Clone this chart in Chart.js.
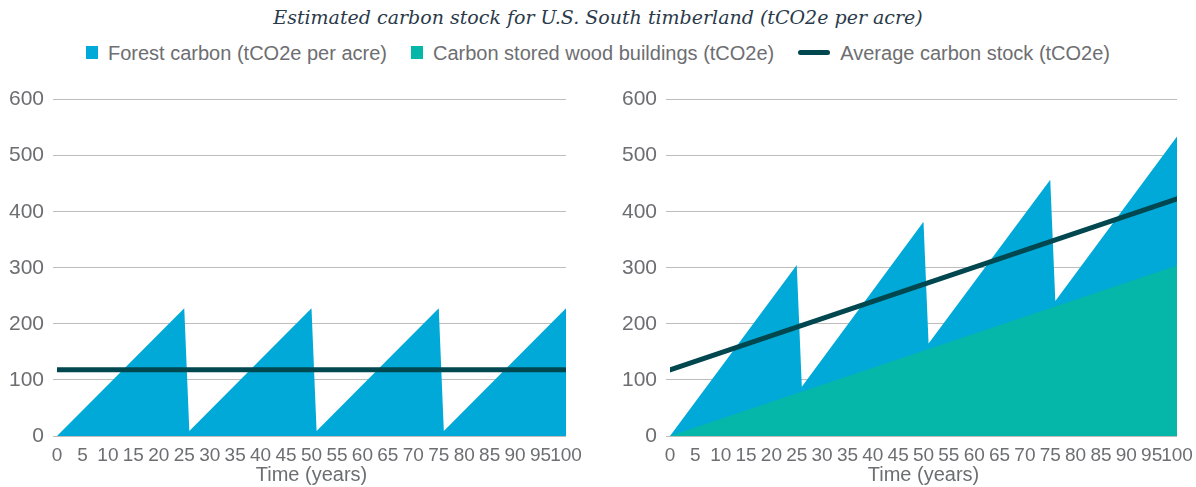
<!DOCTYPE html>
<html>
<head>
<meta charset="utf-8">
<script src="https://cdn.jsdelivr.net/npm/chart.js@4.4.1/dist/chart.umd.min.js"></script>
<style>
  body { margin: 0; width: 1196px; height: 487px; background: #fff; position: relative; overflow: hidden; }
  #title { position: absolute; top: 6px; left: 0; width: 1196px; text-align: center;
    font: italic 19px "DejaVu Serif", serif; color: #2b3a4a; }
  #legend { position: absolute; top: 41px; left: 0; width: 1196px; text-align: center;
    font: 20px "Liberation Sans", sans-serif; color: #6d6e71; white-space: nowrap; }
  #legend span.item { display: inline-block; margin: 0 12px; vertical-align: middle; }
  #legend i { display: inline-block; vertical-align: middle; margin-right: 10px; position: relative; top: -2px; }
  .box { position: absolute; top: 78px; width: 598px; height: 409px; }
</style>
</head>
<body>
<div id="title">Estimated carbon stock for U.S. South timberland (tCO2e per acre)</div>
<div id="legend"></div>
<div class="box" style="left:0"><canvas id="chartLeft"></canvas></div>
<div class="box" style="left:598px"><canvas id="chartRight"></canvas></div>
<script>
// years where the sawtooth changes direction
var forestYears = [0, 25, 26, 50, 51, 75, 76, 100];
var lineYears = [0, 100];

// left: forest only, harvested every 25 years
var forestLeft = [0, 228, 9, 228, 9, 228, 9, 228];
var averageLeft = [118, 118];

// right: forest + carbon kept in wood buildings
var forestRight = [0, 305, 88, 382, 165, 457, 241, 534];
var woodRight = [0, 304];
var averageRight = [118, 423];

var seriesNames = ['Forest carbon (tCO2e per acre)', 'Carbon stored wood buildings (tCO2e)', 'Average carbon stock (tCO2e)'];
var seriesColors = ['#01a9d8', '#05b7a8', '#00474f'];
var xTitle = 'Time (years)';

// html legend shared by both charts
var leg = document.getElementById('legend');
seriesNames.forEach(function(name, i) {
  var marker = i < 2
    ? '<i style="width:12px;height:13px;background:' + seriesColors[i] + '"></i>'
    : '<i style="width:32px;height:5px;border-radius:3px;background:' + seriesColors[i] + '"></i>';
  leg.innerHTML += '<span class="item">' + marker + name + '</span>';
});

function pts(xs, ys) {
  return xs.map(function(x, i) { return { x: x, y: ys[i] }; });
}

function makeOptions(yWidth, padRight) {
  return {
    responsive: true,
    maintainAspectRatio: false,
    animation: false,
    layout: { padding: { top: 20, right: padRight, left: 0, bottom: 0 } },
    plugins: { legend: { display: false }, tooltip: { enabled: false } },
    elements: { point: { radius: 0 }, line: { tension: 0 } },
    scales: {
      x: {
        type: 'linear', min: 0, max: 100,
        grid: { display: false },
        border: { display: false },
        ticks: { stepSize: 5, autoSkip: false, maxRotation: 0, padding: 0, color: '#6d6e71',
          font: { family: '"Liberation Sans Narrow", "Arial Narrow", sans-serif', size: 19 } },
        title: { display: true, text: xTitle, color: '#6d6e71', padding: 0,
          font: { family: '"Liberation Sans", sans-serif', size: 20 } },
        afterFit: function(s) { s.height = 51; }
      },
      y: {
        min: 0, max: 600,
        border: { display: false },
        grid: { color: '#bdbdbd', lineWidth: 1, tickLength: 4 },
        ticks: { stepSize: 100, padding: 9, color: '#6d6e71',
          font: { family: '"Liberation Sans", sans-serif', size: 21 } },
        afterFit: function(s) { s.width = yWidth; }
      }
    }
  };
}

new Chart(document.getElementById('chartLeft'), {
  type: 'line',
  data: {
    datasets: [
      { label: seriesNames[2], data: pts(lineYears, averageLeft), borderColor: seriesColors[2],
        borderWidth: 5, borderCapStyle: 'round', fill: false, order: 0 },
      { label: seriesNames[0], data: pts(forestYears, forestLeft), borderWidth: 0,
        backgroundColor: seriesColors[0], fill: 'origin', order: 2 }
    ]
  },
  options: makeOptions(57, 32)
});

new Chart(document.getElementById('chartRight'), {
  type: 'line',
  data: {
    datasets: [
      { label: seriesNames[2], data: pts(lineYears, averageRight), borderColor: seriesColors[2],
        borderWidth: 5, borderCapStyle: 'round', fill: false, order: 0 },
      { label: seriesNames[1], data: pts(lineYears, woodRight), borderWidth: 0,
        backgroundColor: seriesColors[1], fill: 'origin', order: 1 },
      { label: seriesNames[0], data: pts(forestYears, forestRight), borderWidth: 0,
        backgroundColor: seriesColors[0], fill: 'origin', order: 2 }
    ]
  },
  options: makeOptions(72, 19)
});
</script>
</body>
</html>
